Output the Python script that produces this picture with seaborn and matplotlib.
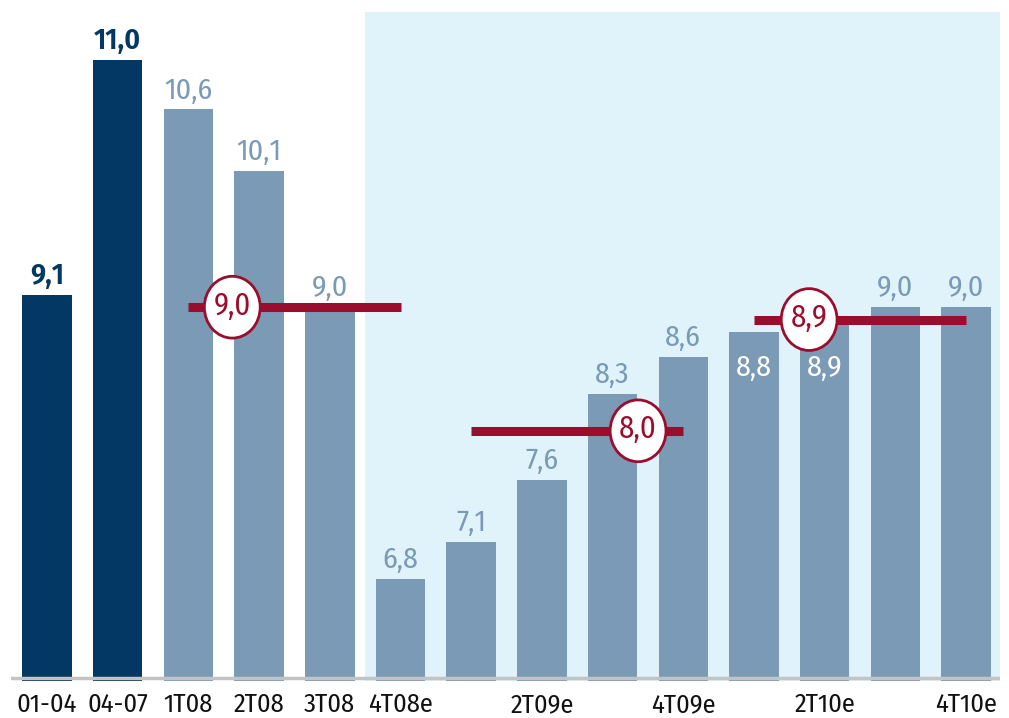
import matplotlib
matplotlib.use("Agg")
import matplotlib.pyplot as plt
from matplotlib.patches import Ellipse
import seaborn as sns

# Data
categories = ["01-04", "04-07", "1T08", "2T08", "3T08", "4T08e", "1T09e",
              "2T09e", "3T09e", "4T09e", "1T10e", "2T10e", "3T10e", "4T10e"]
values = [9.1, 11.0, 10.6, 10.1, 9.0, 6.8, 7.1, 7.6, 8.3, 8.6, 8.8, 8.9, 9.0, 9.0]
tick_labels = ["01-04", "04-07", "1T08", "2T08", "3T08", "4T08e", "",
               "2T09e", "", "4T09e", "", "2T10e", "", "4T10e"]
# yearly averages: (label, value, first bar, last bar, marker position)
averages = [("9,0", 9.0, 2, 5, 2.62), ("8,0", 8.0, 6, 9, 8.36), ("8,9", 8.9, 10, 13, 10.78)]
# bars whose value is written inside, below the average line
inside_labels = {"1T10e", "2T10e"}
INSIDE_BASELINE = 8.44

NAVY = "#033764"
STEEL = "#7a9ab5"
RED = "#9a0d2c"
SHADE = "#e1f3fa"

sns.set_theme(style="white")
plt.rcParams["font.family"] = ["Fira Sans Condensed", "DejaVu Sans"]

fig = plt.figure(figsize=(10.09, 7.18), dpi=100)
ax = fig.add_axes([0.0109, 0.0515, 0.9802, 0.9318])

palette = [NAVY, NAVY] + [STEEL] * (len(categories) - 2)
sns.barplot(x=categories, y=values, hue=categories, palette=palette,
            legend=False, width=0.7, saturation=1, linewidth=0, ax=ax, zorder=2)

ax.set_xlim(-0.51, 13.48)
ax.set_ylim(5.976, 11.388)

# forecast period shading
ax.axvspan(4.5, 13.48, color=SHADE, zorder=0, lw=0)
ax.axhline(6.0, color="#c3c3c3", lw=2.5, zorder=3)

# value labels
for i, (c, v) in enumerate(zip(categories, values)):
    lab = f"{v:.1f}".replace(".", ",")
    if c in inside_labels:
        ax.text(i, INSIDE_BASELINE, lab, ha="center", va="baseline", color="white",
                fontsize=21.5, zorder=5)
    else:
        col = NAVY if i < 2 else STEEL
        ax.text(i, v + 0.04, lab, ha="center", va="bottom", color=col,
                fontsize=21.5, fontweight="semibold" if i < 2 else "normal", zorder=5)

# average lines with circled labels
for lab, v, a, b, m in averages:
    ax.plot([a, b], [v, v], color=RED, lw=6.5, solid_capstyle="butt", zorder=6)
    ax.add_patch(Ellipse((m, v), width=0.79, height=0.50, facecolor="white",
                         edgecolor=RED, lw=2, zorder=7))
    ax.text(m, v + 0.01, lab, ha="center", va="center", color=RED, fontsize=22,
            zorder=8)

ax.set_xticks(range(len(categories)))
ax.set_xticklabels(tick_labels, fontsize=19, color="#111111")
ax.tick_params(axis="x", length=0, pad=8)
ax.set_yticks([])
ax.set_xlabel("")
ax.set_ylabel("")
for s in ax.spines.values():
    s.set_visible(False)

fig.savefig("out.png", dpi=100)
